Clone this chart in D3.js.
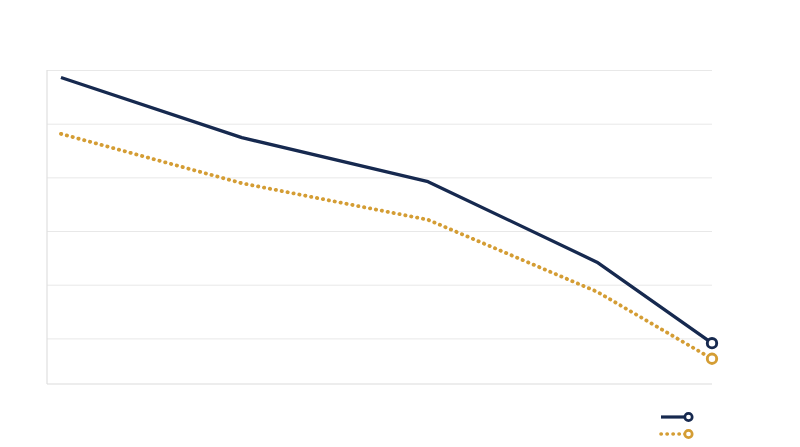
<!DOCTYPE html>
<html>
<head>
<meta charset="utf-8">
<script src="https://cdn.jsdelivr.net/npm/d3@7"></script>
<style>
  html, body { margin: 0; padding: 0; background: #fff; }
  svg { display: block; font-family: "Open Sans", sans-serif; }
</style>
</head>
<body>
<svg id="chart" width="800" height="447"></svg>
<script>
// position of each period along the x axis (0..100)
var periods = [2.1, 29.3, 57.3, 82.7, 100];
var seriesA = [5.86, 4.74, 3.92, 2.42, 0.91];
var seriesB = [4.81, 3.89, 3.21, 1.87, 0.62];
var yTicks = [1, 2, 3, 4, 5, 6];

var svg = d3.select("#chart"),
    margin = {top: 70, right: 88, bottom: 63, left: 47},
    width = 800 - margin.left - margin.right,
    height = 447 - margin.top - margin.bottom;

var x = d3.scaleLinear().domain([0, 100]).range([0, width]),
    y = d3.scaleLinear().domain([0.15, 6]).range([height, 0]);

var g = svg.append("g").attr("transform", `translate(${margin.left},${margin.top})`);

// gridlines
g.append("g")
    .call(d3.axisLeft(y).tickValues(yTicks).tickSize(-width).tickFormat(""))
    .call(s => s.select(".domain").remove())
    .selectAll("line").attr("stroke", "#e8e8e8").attr("stroke-width", 1);

// axis lines
g.append("line").attr("x1", 0).attr("x2", 0).attr("y1", 0).attr("y2", height)
    .attr("stroke", "#e0e0e0").attr("stroke-width", 1.2);
g.append("line").attr("x1", 0).attr("x2", width).attr("y1", height).attr("y2", height)
    .attr("stroke", "#dcdcdc").attr("stroke-width", 1.2);

var navy = "#16294f", gold = "#d49d34";

var line = d3.line().x((d, i) => x(periods[i])).y(d => y(d));

g.append("path").datum(seriesB)
    .attr("d", line).attr("fill", "none").attr("stroke", gold)
    .attr("stroke-width", 3.8).attr("stroke-linecap", "round")
    .attr("stroke-dasharray", "0.3 5.7");

g.append("path").datum(seriesA)
    .attr("d", line).attr("fill", "none").attr("stroke", navy)
    .attr("stroke-width", 3.3).attr("stroke-linejoin", "round");

// end markers
var last = periods.length - 1;
[[seriesA, navy], [seriesB, gold]].forEach(function (s) {
    g.append("circle")
        .attr("cx", x(periods[last])).attr("cy", y(s[0][last]))
        .attr("r", 4.7).attr("fill", "#fff")
        .attr("stroke", s[1]).attr("stroke-width", 2.9);
});

// legend
var legend = svg.append("g").attr("transform", "translate(660,417)");
[[navy, null], [gold, "0.3 5.7"]].forEach(function (s, i) {
    var row = legend.append("g").attr("transform", `translate(0,${i * 17})`);
    row.append("line").attr("x1", 1).attr("x2", 25).attr("y1", 0).attr("y2", 0)
        .attr("stroke", s[0]).attr("stroke-width", s[1] ? 3.6 : 3.2)
        .attr("stroke-linecap", s[1] ? "round" : "butt")
        .attr("stroke-dasharray", s[1]);
    row.append("circle").attr("cx", 28.5).attr("cy", 0).attr("r", 3.7)
        .attr("fill", "#fff").attr("stroke", s[0]).attr("stroke-width", 2.7);
});
</script>
</body>
</html>
